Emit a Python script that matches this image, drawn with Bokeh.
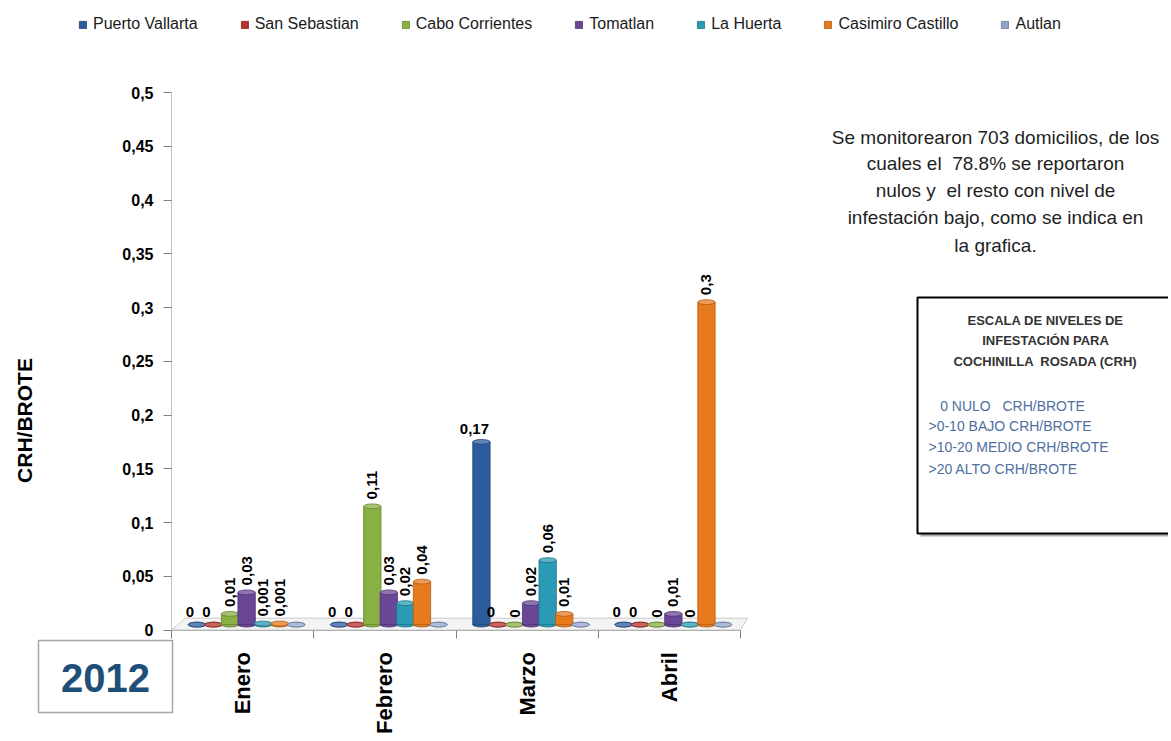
import math
from bokeh.plotting import figure
from bokeh.models import (ColumnDataSource, FixedTicker, CustomJSTickFormatter, Legend,
                          LegendItem, Label, BoxAnnotation, Range1d)
from bokeh.core.properties import value
from bokeh.embed import file_html
from bokeh.resources import INLINE

# ---------------- data ----------------
months = ["Enero", "Febrero", "Marzo", "Abril"]
series_names = ["Puerto Vallarta", "San Sebastian", "Cabo Corrientes", "Tomatlan",
                "La Huerta", "Casimiro Castillo", "Autlan"]
puerto_vallarta = [0, 0, 0.17, 0]
san_sebastian = [0, 0, 0, 0]
cabo_corrientes = [0.01, 0.11, 0, 0]
tomatlan = [0.03, 0.03, 0.02, 0.01]
la_huerta = [0.001, 0.02, 0.06, 0]
casimiro_castillo = [0.001, 0.04, 0.01, 0.3]
autlan = [0, 0, 0, 0]
series_values = [puerto_vallarta, san_sebastian, cabo_corrientes, tomatlan,
                 la_huerta, casimiro_castillo, autlan]
y_tick_values = [0, 0.05, 0.1, 0.15, 0.2, 0.25, 0.3, 0.35, 0.4, 0.45, 0.5]

NB = "\u00a0"
year_text = "2012"
y_title = "CRH/BROTE"
note_lines = ["Se monitorearon 703 domicilios, de los",
              "cuales el " + NB + "78.8% se reportaron",
              "nulos y " + NB + "el resto con nivel de",
              "infestación bajo, como se indica en",
              "la grafica."]
scale_title = ["ESCALA DE NIVELES DE", "INFESTACIÓN PARA",
               "COCHINILLA " + NB + "ROSADA (CRH)"]
scale_lines = [NB * 3 + "0 NULO " + NB * 2 + "CRH/BROTE", ">0-10 BAJO CRH/BROTE",
               ">10-20 MEDIO CRH/BROTE", ">20 ALTO CRH/BROTE"]

# ---------------- style / layout ----------------
colors = ["#2C5C9E", "#B5312C", "#88B042", "#6A4697", "#2A9AB5", "#E87A1E", "#8FA3CC"]
label_rotated = [False, False, True, True, True, True, True]
label_shown = [True, True, True, True, True, True, False]

FONT = "Liberation Sans"
W, H = 1168, 738               # canvas size (frame covers the whole canvas)
ORIGIN_X, ORIGIN_Y = 171, 629.5  # pixel position of data (0, 0)
X_PX = 142.25                  # pixels per month slot
Y_PX = 1075.0                  # pixels per CRH/BROTE unit
BAR_STEP = 0.1164
BAR_W = 0.122
SHIFT = 0.028
BASE = 0.005
CAP_H = 0.0045


def sx(page_x):
    return page_x


def sy(page_y):
    return H - page_y


def shade(hex_color, f):
    h = hex_color.lstrip("#")
    r, g, b = (int(h[i:i + 2], 16) for i in (0, 2, 4))
    if f < 1:
        r, g, b = (int(c * f) for c in (r, g, b))
    else:
        t = f - 1
        r, g, b = (int(c + (255 - c) * t) for c in (r, g, b))
    return "#%02x%02x%02x" % (r, g, b)


x_range = Range1d(-ORIGIN_X / X_PX, (W - ORIGIN_X) / X_PX)
y_range = Range1d(-(H - ORIGIN_Y) / Y_PX, ORIGIN_Y / Y_PX)

p = figure(width=W, height=H, min_border=0, min_border_left=0, min_border_right=0,
           min_border_top=0, min_border_bottom=0,
           x_range=x_range, y_range=y_range,
           output_backend="svg", toolbar_location=None, tools="")
p.outline_line_color = None
p.xgrid.visible = False
p.ygrid.visible = False
p.background_fill_color = "white"
p.border_fill_color = "white"

n = len(months)

# 3D-like floor
p.patch(x=[0, 0.1, n + 0.05, n], y=[0, 0.011, 0.011, 0],
        fill_color="#f4f4f4", line_color="#c8c8c8", line_width=1)

# bars drawn as cylinders
renderers = []
for j, name in enumerate(series_names):
    vals = series_values[j]
    xs = [i + 0.5 + (j - 3) * BAR_STEP + SHIFT for i in range(n)]
    tops = [BASE + v for v in vals]
    src = ColumnDataSource(dict(x=xs, top=tops, v=vals,
                                text=[("%g" % v).replace(".", ",") for v in vals]))
    c = colors[j]
    p.ellipse(x="x", y=BASE, width=BAR_W, height=CAP_H, source=src,
              fill_color=c, line_color=shade(c, 0.75), line_width=0.8)
    r = p.vbar(x="x", bottom=BASE, top="top", width=BAR_W, source=src,
               fill_color=c, line_color=shade(c, 0.75), line_width=0.8)
    p.ellipse(x="x", y="top", width=BAR_W, height=CAP_H, source=src,
              fill_color=shade(c, 1.25), line_color=shade(c, 0.75), line_width=0.8)
    renderers.append(r)
    if label_shown[j]:
        if label_rotated[j]:
            p.text(x="x", y="top", text="text", source=src, angle=math.pi / 2,
                   text_align="left", text_baseline="middle", x_offset=0, y_offset=-7,
                   text_font=value(FONT), text_font_style="bold",
                   text_font_size="15px", text_color="black")
        else:
            p.text(x="x", y="top", text="text", source=src, angle=0,
                   text_align="center", text_baseline="bottom", x_offset=-7, y_offset=-8,
                   text_font=value(FONT), text_font_style="bold",
                   text_font_size="15px", text_color="black")

# axes (fixed at the data origin, frame covers the canvas)
yax = p.yaxis[0]
yax.fixed_location = 0
yax.bounds = (0, 0.5)
yax.ticker = FixedTicker(ticks=y_tick_values)
yax.formatter = CustomJSTickFormatter(
    code="return (Math.round(tick*100)/100).toString().replace('.', ',');")
yax.axis_line_color = "#c4c4c4"
yax.major_tick_line_color = "#808080"
yax.major_tick_out = 8
yax.major_tick_in = 0
yax.minor_tick_line_color = None
yax.major_label_standoff = 10
yax.major_label_text_font = FONT
yax.major_label_text_font_style = "bold"
yax.major_label_text_font_size = "16px"
yax.major_label_text_color = "black"

xax = p.xaxis[0]
xax.fixed_location = 0
xax.bounds = (0, n)
xax.ticker = FixedTicker(ticks=[i + 0.5 for i in range(n)], minor_ticks=list(range(n + 1)))
xax.formatter = CustomJSTickFormatter(args=dict(months=months),
                                      code="return months[Math.floor(tick)] || '';")
xax.axis_line_color = "#b0b0b0"
xax.major_tick_line_color = None
xax.major_tick_out = 8
xax.major_tick_in = 0
xax.minor_tick_line_color = "#808080"
xax.minor_tick_out = 8
xax.minor_tick_in = 0
xax.major_label_orientation = math.pi / 2
xax.major_label_standoff = 14
xax.major_label_text_font = FONT
xax.major_label_text_font_style = "bold"
xax.major_label_text_font_size = "22px"
xax.major_label_text_color = "black"

# legend (top)
legend = Legend(items=[LegendItem(label=nm, renderers=[r]) for nm, r in zip(series_names, renderers)],
                orientation="horizontal", location=(sx(78), sy(33)),
                padding=0, margin=0, spacing=42, label_standoff=6,
                glyph_width=9, glyph_height=9, label_height=18,
                border_line_color=None, background_fill_alpha=0,
                label_text_font=FONT, label_text_font_size="16px", label_text_color="#1a1a1a")
p.add_layout(legend)

# y title
p.add_layout(Label(x=sx(24), y=sy(420), x_units="screen", y_units="screen", text=y_title,
                   angle=math.pi / 2, text_align="center", text_baseline="middle",
                   text_font=FONT, text_font_style="bold", text_font_size="21px",
                   text_color="black"))

# 2012 box
p.add_layout(BoxAnnotation(left=sx(38), right=sx(172), top=sy(640), bottom=sy(712),
                           left_units="screen", right_units="screen",
                           top_units="screen", bottom_units="screen",
                           fill_color="white", fill_alpha=1,
                           line_color="#a6a6a6", line_alpha=1, line_width=1.5))
p.add_layout(Label(x=sx(105), y=sy(677), x_units="screen", y_units="screen", text=year_text,
                   text_align="center", text_baseline="middle",
                   text_font=FONT, text_font_style="bold", text_font_size="40px",
                   text_color="#1F4E79"))

# note text (right)
note_y = [137, 163, 190, 217, 245]
for k, line in enumerate(note_lines):
    p.add_layout(Label(x=sx(995), y=sy(note_y[k]), x_units="screen", y_units="screen",
                       text=line, text_align="center", text_baseline="middle",
                       text_font=FONT, text_font_size="19px", text_color="#1f1f1f"))

# scale box
p.add_layout(BoxAnnotation(left=sx(920), right=sx(1200), top=sy(300), bottom=sy(536),
                           left_units="screen", right_units="screen",
                           top_units="screen", bottom_units="screen",
                           fill_color="#8a8a8a", fill_alpha=0.7, line_alpha=0, line_color=None))
p.add_layout(BoxAnnotation(left=sx(917), right=sx(1200), top=sy(297), bottom=sy(533),
                           left_units="screen", right_units="screen",
                           top_units="screen", bottom_units="screen",
                           fill_color="white", fill_alpha=1,
                           line_color="black", line_alpha=1, line_width=2))
for k, line in enumerate(scale_title):
    p.add_layout(Label(x=sx(1045), y=sy([320, 340, 361][k]), x_units="screen", y_units="screen",
                       text=line, text_align="center", text_baseline="middle",
                       text_font=FONT, text_font_style="bold", text_font_size="13px",
                       text_color="#333333"))
for k, line in enumerate(scale_lines):
    p.add_layout(Label(x=sx(928), y=sy([405, 425, 446, 468][k]), x_units="screen", y_units="screen",
                       text=line, text_align="left", text_baseline="middle",
                       text_font=FONT, text_font_size="14px", text_color="#4F6FA0"))

open("out.html", "w").write(file_html(p, INLINE))
